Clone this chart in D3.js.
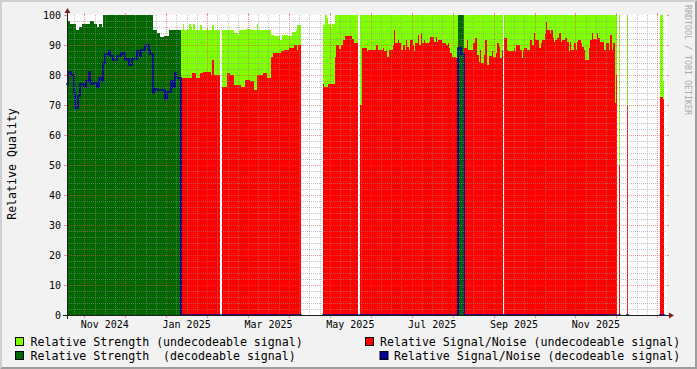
<!DOCTYPE html>
<html><head><meta charset="utf-8">
<script src="https://cdn.jsdelivr.net/npm/d3@7/dist/d3.min.js"></script>
<style>
html,body{margin:0;padding:0;background:#f2f2f2}
svg{display:block}
text{font-family:"DejaVu Sans Mono",monospace}
</style>
</head><body>
<svg id="chart" width="697" height="369"></svg>
<script>
// ---------------- DATA (one value per day, null = unknown) ----------------
const dayCount = 446;
const monthLabels = ["Nov 2024","Jan 2025","Mar 2025","May 2025","Jul 2025","Sep 2025","Nov 2025"];
const yTicks = [0,10,20,30,40,50,60,70,80,90,100];
const decodeRanges = [[0,84],[291,294]];
const seriesNames = {
  strengthUndec: "Relative Strength (undecodeable signal)",
  strengthDec: "Relative Strength  (decodeable signal)",
  snrUndec: "Relative Signal/Noise (undecodeable signal)",
  snrDec: "Relative Signal/Noise (decodeable signal)"
};

const strength = [
// 0-26
98,98,97,97,97,97,97,95,95,96,96,97,97,97,97,97,97,98,98,98,97,97,96,96,97,97,96,
// 27-63
100,100,100,100,100,100,100,100,100,100,100,100,100,100,100,100,100,100,100,100,
100,100,100,100,100,100,100,100,100,100,100,100,100,100,100,100,100,
// 64-84
95,95,95,94,94,92.5,92.5,92.5,93,93,93,93,95,95,95,95,95,95,95,95,95,
// 85-173
95,97,95,95,95,95,97,96,95,97,
95,95,95,95,96.7,95,95,95,95,96,
95,95,95,96.7,95,95,95,95,95,null,
95,95,95,95,95,95,95,95,95,94,
94,94,93.3,95,95,95,95,95,95.5,95.5,
95.5,95.5,95,95,95,95,97,95,95,95,
95,95,95,95,95,95,95,93.3,93.3,93,
93,93,93,91.7,91.7,93.3,93.3,93.3,93.3,93,
93,93,94.5,94.5,94.5,95,96.7,96.7,96.7,
// 174-189
null,null,null,null,null,null,null,null,null,null,null,null,null,null,null,null,
// 190-215
97,96.7,100,99,97,97,96,97,97,
100,100,100,100,100,100,100,100,100,100,100,100,100,100,100,100,100,
// 216-218
null,null,100,
// 219-290
100,100,100,100,100,100,100,100,100,100,100,100,100,100,100,100,100,100,100,100,
100,100,100,100,100,100,100,100,100,100,100,100,100,100,100,100,100,100,100,100,
100,100,100,100,100,100,100,100,100,100,100,100,100,100,100,100,100,100,100,100,
100,100,100,100,100,100,100,100,100,100,100,100,
// 291-294
100,100,100,100,
// 295-323
100,100,100,100,100,100,100,100,100,100,100,100,100,100,100,100,100,100,100,100,
100,100,100,100,100,100,100,100,100,
// 324
null,
// 325-408
100,100,100,100,100,100,100,100,100,100,100,100,100,100,100,100,100,100,100,100,
100,100,100,100,100,100,100,100,100,100,100,100,100,100,100,100,100,100,100,100,
100,100,100,100,100,100,100,100,100,100,100,100,100,100,100,100,100,100,100,100,
100,100,100,100,100,100,100,100,100,100,100,100,100,100,100,100,100,100,100,100,
100,100,100,100,
// 409-445
null,100,null,null,null,null,null,100,
null,null,null,null,null,null,null,null,null,null,null,null,
null,null,null,null,null,null,null,null,null,null,null,null,
100,100,78,null,null
];

const snr = [
// 0-26
77,81,81,80,80,74,69,69,73,73,77,77,77,76,78,78,81,78,77,77,77.5,77.5,76,76,79,79,78,
// 27-63
84,87,87,87,88,86.5,86.5,85,85,85,86.5,86.5,86.5,87,87.5,87.5,85,85.5,85.5,83.5,
83.5,85.5,85.5,85.5,85.5,88,88,86.5,88.3,88.3,88.3,89.4,90,90,88,87,87,
// 64-84
74,75.5,75.5,75,75,75,75,75,75,72,74.5,74.5,74.5,78,78,76,80.5,79,79,79,79,
// 85-173
79,79,79,79,79,79,79,79,80.5,80.5,
80.5,79,79,79,80.5,80.5,81,81,81,81,
81,81,80,85,80,80,80,80,80,null,
76,76,76,76,80.5,80.5,80,80,80,76.5,
76.5,76.5,76.5,76.5,76,76,76,78.3,78.3,78.3,
78.3,78,78,78,75,75,80,80,80,80,
80,80.5,80.5,80.5,79,79,79,86,87.2,87.2,
87.2,87.2,87.2,87.2,88,88,88.3,88.3,88.3,88.3,
89,89,89,89,90,90,88.3,90,90,
// 174-189
null,null,null,null,null,null,null,null,null,null,null,null,null,null,null,null,
// 190-215
77,76,76,76,77,77,77,77,77,86,90,90,88.5,88.5,90,91.7,91.7,93,93,93,93,93,92,90.5,90.5,90.5,
// 216-218
null,null,70,
// 219-290
88.9,88.9,88.9,88.9,88,88.3,88.3,88.3,88.3,88.3,
88.3,90,88.3,88.3,88.3,88.3,88.9,88,88.3,86,
88.3,88.3,88.3,90,95,90.6,90.6,91.7,90.6,88.3,
88.3,90,88.3,91.5,89.5,88.3,91.7,91.7,90,88,
90.6,90.6,93.3,90,93.9,90.6,91.7,90.6,90.6,90.6,
91,92.5,92.5,92.5,91,92.5,91,91.7,91.7,91.7,
90.6,90.6,90.6,90,90.6,89,87.2,86.1,86.1,86.1,
85.6,85.6,
// 291-294
89,89,87,87,
// 295-408
88.9,88.9,91.7,88.3,88.3,88.3,88.3,90.6,92.2,92.2,
86.7,84.4,88.3,83.9,83.9,86.7,91.7,83.3,83.3,86.4,
86.4,88,86.1,86.1,87.2,90.6,89.4,85.6,88.3,null,
92.2,92.2,88.3,88,88,88,88,88.9,88,90,
90,90,88.3,85.6,88.3,88.9,88.9,88.3,88.3,91.7,
91.7,90,93.9,91.7,91.7,91.7,88.9,90.6,91.7,91.7,
93.9,97.8,95,95,93.9,95,92.2,91,91.7,92.2,
92.2,93.9,91,91.7,91.7,92.2,92.2,91,88,91,
88.3,88.3,90.6,88.3,91,91.7,91.7,90.6,89.4,88.3,
85,85,85,88.9,91.7,93.9,92,92,92,93.9,
92.2,91,91,91,88.3,88.3,90.6,90.6,88.3,93.3,
88.3,90.6,70.6,80,
// 409-445
null,50,null,null,null,null,null,70,
null,null,null,null,null,null,null,null,null,null,null,null,
null,null,null,null,null,null,null,null,null,null,null,null,
72.8,72.8,72,null,null
];

// ---------------- COLOURS ----------------
const C = {
  back:"#f2f2f2", canvas:"#ffffff", shadeA:"#cfcfcf", shadeB:"#9e9e9e",
  grid:"rgba(143,143,143,0.55)", mgrid:"rgba(222,79,79,0.6)",
  arrow:"#801f1f", axis:"#1f1f1f",
  lightGreen:"#80ff00", darkGreen:"#006600", red:"#ff0000", blue:"#000099"
};

// ---------------- LAYOUT ----------------
const W = 697, H = 369;
const X0 = 67, X1 = 667, Y0 = 315, Y1 = 15;

const svg = d3.select("#chart");
const x = d3.scaleLinear().domain([0, dayCount]).range([X0, X1]);
// month grid: uniform months, month 0 = Nov 2024
const xm = d3.scaleLinear().domain([-0.4227, 14.2372]).range([X0, X1]);
const y = d3.scaleLinear().domain([0, 100]).range([Y0, Y1]);

// background + bevel
svg.append("rect").attr("width", W).attr("height", H).attr("fill", C.back);
svg.append("path").attr("fill", C.shadeA)
  .attr("d", `M0,${H} L2,${H-2} L2,2 L${W-2},2 L${W},0 L0,0 Z`);
svg.append("path").attr("fill", C.shadeB)
  .attr("d", `M2,${H-2} L${W-2},${H-2} L${W-2},2 L${W},0 L${W},${H} L0,${H} Z`);
svg.append("rect").attr("x", X0).attr("y", Y1).attr("width", X1-X0).attr("height", Y0-Y1).attr("fill", C.canvas);

const isDec = i => decodeRanges.some(r => i >= r[0] && i <= r[1]);

function runs(vals, keep) {
  const out = []; let cur = null;
  vals.forEach((v, i) => {
    if (v != null && keep(i)) { if (!cur) { cur = []; out.push(cur); } cur.push({i, v}); }
    else cur = null;
  });
  out.forEach(r => { const l = r[r.length-1]; r.push({i: l.i + 1, v: l.v}); });
  return out;
}
const px = v => Math.round(v);
const area = d3.area().curve(d3.curveStepAfter)
  .x(d => px(x(d.i))).y0(y(0)).y1(d => px(y(d.v)));
const line = d3.line().curve(d3.curveStepAfter)
  .x(d => px(x(d.i))).y(d => px(y(d.v)));

const plot = svg.append("g");
function drawArea(vals, keep, color) {
  plot.selectAll(null).data(runs(vals, keep)).enter().append("path")
    .attr("d", area).attr("fill", color).attr("shape-rendering", "crispEdges");
}
drawArea(strength, i => !isDec(i), C.lightGreen);
drawArea(snr, i => !isDec(i), C.red);
drawArea(strength, i => isDec(i), C.darkGreen);
// decodeable SNR as line (0 where not decodeable)
const snrDecView = snr.map((v, i) => v == null || strength[i] == null ? null : (isDec(i) ? v : 0));
plot.selectAll(null).data(runs(snrDecView, () => true)).enter().append("path")
  .attr("d", line).attr("fill", "none").attr("stroke", C.blue).attr("stroke-width", 1.7)
  .attr("stroke-linejoin", "miter").attr("stroke-linecap", "square");

// ---------------- GRID ----------------
const grid = svg.append("g").attr("shape-rendering", "crispEdges");
const minorY = d3.range(2, 100, 2).filter(v => v % 10 !== 0);
grid.selectAll(null).data(minorY).enter().append("line")
  .attr("x1", X0).attr("x2", X1).attr("y1", d => Math.round(y(d)) + 0.5).attr("y2", d => Math.round(y(d)) + 0.5)
  .attr("stroke", C.grid).attr("stroke-dasharray", "1,1");
const minorX = d3.range(-1, 58).map(k => k / 4).filter(m => m % 1 !== 0 && xm(m) > X0 && xm(m) < X1);
grid.selectAll(null).data(minorX).enter().append("line")
  .attr("y1", Y1).attr("y2", Y0).attr("x1", d => Math.round(xm(d)) + 0.5).attr("x2", d => Math.round(xm(d)) + 0.5)
  .attr("stroke", C.grid).attr("stroke-dasharray", "1,1");
const majorY = yTicks.filter(v => v > 0 && v < 100);
grid.selectAll(null).data(majorY).enter().append("line")
  .attr("x1", X0).attr("x2", X1).attr("y1", d => Math.round(y(d)) + 0.5).attr("y2", d => Math.round(y(d)) + 0.5)
  .attr("stroke", C.mgrid).attr("stroke-dasharray", "1,1");
const majorX = d3.range(0, 15);
grid.selectAll(null).data(majorX).enter().append("line")
  .attr("y1", Y1).attr("y2", Y0).attr("x1", d => Math.round(xm(d)) + 0.5).attr("x2", d => Math.round(xm(d)) + 0.5)
  .attr("stroke", C.mgrid).attr("stroke-dasharray", "1,1");
// tick marks outside
grid.selectAll(null).data(yTicks).enter().append("line")
  .attr("x1", X0 - 3).attr("x2", X0).attr("y1", d => Math.round(y(d)) + 0.5).attr("y2", d => Math.round(y(d)) + 0.5)
  .attr("stroke", C.mgrid);
grid.selectAll(null).data(yTicks).enter().append("line")
  .attr("x1", X1).attr("x2", X1 + 2).attr("y1", d => Math.round(y(d)) + 0.5).attr("y2", d => Math.round(y(d)) + 0.5)
  .attr("stroke", C.mgrid);
grid.selectAll(null).data(majorX).enter().append("line")
  .attr("y1", Y0).attr("y2", Y0 + 3).attr("x1", d => Math.round(xm(d)) + 0.5).attr("x2", d => Math.round(xm(d)) + 0.5)
  .attr("stroke", C.mgrid);
grid.selectAll(null).data(majorX).enter().append("line")
  .attr("y1", Y1 - 2).attr("y2", Y1).attr("x1", d => Math.round(xm(d)) + 0.5).attr("x2", d => Math.round(xm(d)) + 0.5)
  .attr("stroke", C.mgrid);

// ---------------- AXES ----------------
svg.append("line").attr("x1", X0 - 4).attr("x2", X1 + 4).attr("y1", Y0 + 0.5).attr("y2", Y0 + 0.5)
  .attr("stroke", C.axis).attr("stroke-width", 1);
svg.append("line").attr("x1", X0 + 0.5).attr("x2", X0 + 0.5).attr("y1", Y0 + 4).attr("y2", Y1 - 4)
  .attr("stroke", C.axis).attr("stroke-width", 1);
svg.append("path").attr("fill", C.arrow)
  .attr("d", `M${X1+2},${Y0-2.5} L${X1+2},${Y0+3.5} L${X1+7},${Y0+0.5} Z`);
svg.append("path").attr("fill", C.arrow)
  .attr("d", `M${X0-2.5},${Y1-2} L${X0+3.5},${Y1-2} L${X0+0.5},${Y1-7} Z`);

// y labels
svg.selectAll(null).data(yTicks).enter().append("text")
  .attr("x", 61).attr("y", d => y(d) + 3.6).attr("text-anchor", "end")
  .attr("font-size", "10px").attr("fill", "#000").text(d => d);
// x labels (centered mid-month)
svg.selectAll(null).data(monthLabels).enter().append("text")
  .attr("x", (d, i) => xm(i * 2 + 0.5)).attr("y", 328).attr("text-anchor", "middle")
  .attr("font-size", "10px").attr("fill", "#000").text(d => d);

// axis title
svg.append("text").attr("transform", "translate(15.5,164) rotate(-90)")
  .attr("text-anchor", "middle").attr("font-size", "11.6px").attr("fill", "#000").text("Relative Quality");
// watermark
svg.append("text").attr("transform", "translate(684.5,5) rotate(90)")
  .attr("text-anchor", "start").attr("font-size", "8.3px").attr("fill", "#aaaaaa").text("RRDTOOL / TOBI OETIKER");

// ---------------- LEGEND ----------------
const legend = [
  {name: seriesNames.strengthUndec, color: C.lightGreen, bx: 15, tx: 30.5, row: 0},
  {name: seriesNames.snrUndec, color: C.red, bx: 365, tx: 380, row: 0},
  {name: seriesNames.strengthDec, color: C.darkGreen, bx: 15, tx: 30.5, row: 1},
  {name: seriesNames.snrDec, color: C.blue, bx: 379.5, tx: 394, row: 1}
];
const lg = svg.append("g");
lg.selectAll(null).data(legend).enter().append("rect")
  .attr("x", d => d.bx + 0.5).attr("y", d => 337.5 + d.row * 14).attr("width", 8).attr("height", 8)
  .attr("fill", d => d.color).attr("stroke", "#000").attr("stroke-width", 1);
lg.selectAll(null).data(legend).enter().append("text")
  .attr("x", d => d.tx).attr("y", d => 345.5 + d.row * 14)
  .attr("font-size", "11.6px").attr("fill", "#000").style("white-space", "pre").text(d => d.name);
</script>
</body></html>
